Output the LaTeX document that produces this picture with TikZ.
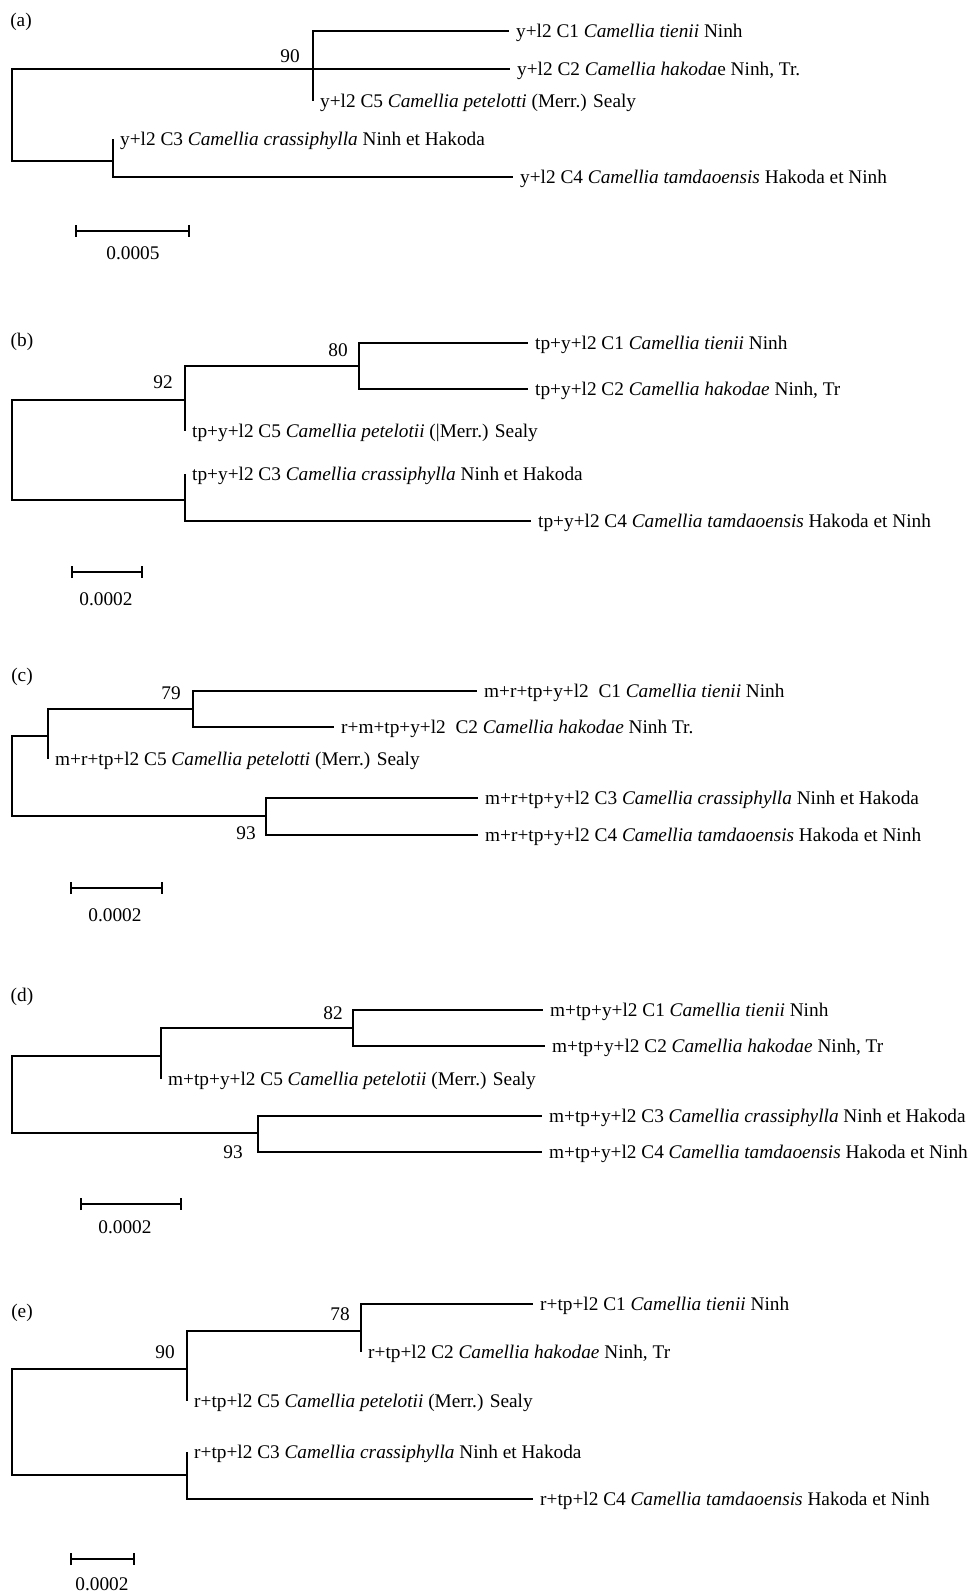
\documentclass[tikz,border=0pt]{standalone}
\usepackage{fontspec}
\setmainfont{Liberation Serif}
\usetikzlibrary{arrows.meta}

\begin{document}
\begin{tikzpicture}[x=1pt,y=-1pt,
		font=\fontsize{19.3}{23}\selectfont,
		branch/.style={line width=1.6pt},
		taxon/.style={anchor=west,inner xsep=7pt,inner ysep=1pt,text height=12.5pt,text depth=0pt},
		boot/.style={inner sep=0pt},
		scalebar/.style={line width=1.6pt,{Bar[width=12pt]}-{Bar[width=12pt]}}]
	\useasboundingbox (0,0) rectangle (974,1594);

	\node[boot] (pa) at (21,22) {(a)};
	\coordinate (a0) at (12,115);
	\coordinate (a90) at (313,69);
	\coordinate (a3) at (113,161);
	\node[taxon] (ac1) at (509,31) {y+l2 C1 \textit{Camellia tienii} Ninh};
	\node[taxon] (ac2) at (510,69) {y+l2 C2 \textit{Camellia hakoda}e Ninh, Tr.};
	\node[taxon] (ac5) at (313,101) {y+l2 C5 \textit{Camellia petelotti} (Merr.) Sealy};
	\node[taxon] (ac3) at (113,139) {y+l2 C3 \textit{Camellia crassiphylla} Ninh et Hakoda};
	\node[taxon] (ac4) at (513,177) {y+l2 C4 \textit{Camellia tamdaoensis} Hakoda et Ninh};
	\node[boot] (ba90) at (290,56) {90};
	\draw[branch] (a0) |- (a90) (a0) |- (a3)
		(a90) |- (ac1) (a90) |- (ac2) (a90) -- (a90 |- ac5)
		(a3) -- (a3 |- ac3) (a3) |- (ac4);
	\coordinate (sa1) at (75,231);
	\coordinate (sa2) at (190,231);
	\draw[scalebar] (sa1) -- (sa2);
	\node[boot] (la) at (133,253) {0.0005};

	\node[boot] (pb) at (22,342) {(b)};
	\coordinate (b0) at (12,450);
	\coordinate (b92) at (185,400);
	\coordinate (b80) at (359,366);
	\coordinate (b3) at (185,500);
	\node[taxon] (bc1) at (528,343) {tp+y+l2 C1 \textit{Camellia tienii} Ninh};
	\node[taxon] (bc2) at (528,389) {tp+y+l2 C2 \textit{Camellia hakodae} Ninh, Tr};
	\node[taxon] (bc5) at (185,431) {tp+y+l2 C5 \textit{Camellia petelotii} (|Merr.) Sealy};
	\node[taxon] (bc3) at (185,474) {tp+y+l2 C3 \textit{Camellia crassiphylla} Ninh et Hakoda};
	\node[taxon] (bc4) at (531,521) {tp+y+l2 C4 \textit{Camellia tamdaoensis} Hakoda et Ninh};
	\node[boot] (bb92) at (163,382) {92};
	\node[boot] (bb80) at (338,350) {80};
	\draw[branch] (b0) |- (b92) (b0) |- (b3)
		(b92) |- (b80) (b92) -- (b92 |- bc5)
		(b80) |- (bc1) (b80) |- (bc2)
		(b3) -- (b3 |- bc3) (b3) |- (bc4);
	\coordinate (sb1) at (71,572);
	\coordinate (sb2) at (143,572);
	\draw[scalebar] (sb1) -- (sb2);
	\node[boot] (lb) at (106,599) {0.0002};

	\node[boot] (pc) at (22,677) {(c)};
	\coordinate (c0) at (12,776);
	\coordinate (c1) at (48,736);
	\coordinate (c79) at (193,709);
	\coordinate (c93) at (266,816);
	\node[taxon] (cc1) at (477,691) {m+r+tp+y+l2\ \ C1 \textit{Camellia tienii} Ninh};
	\node[taxon] (cc2) at (334,727) {r+m+tp+y+l2\ \ C2 \textit{Camellia hakodae} Ninh Tr.};
	\node[taxon] (cc5) at (48,759) {m+r+tp+l2 C5 \textit{Camellia petelotti} (Merr.) Sealy};
	\node[taxon] (cc3) at (478,798) {m+r+tp+y+l2 C3 \textit{Camellia crassiphylla} Ninh et Hakoda};
	\node[taxon] (cc4) at (478,835) {m+r+tp+y+l2 C4 \textit{Camellia tamdaoensis} Hakoda et Ninh};
	\node[boot] (bc79) at (171,693) {79};
	\node[boot] (bc93) at (246,833) {93};
	\draw[branch] (c0) |- (c1) (c0) |- (c93)
		(c1) |- (c79) (c1) -- (c1 |- cc5)
		(c79) |- (cc1) (c79) |- (cc2)
		(c93) |- (cc3) (c93) |- (cc4);
	\coordinate (sc1) at (70,888);
	\coordinate (sc2) at (163,888);
	\draw[scalebar] (sc1) -- (sc2);
	\node[boot] (lc) at (115,915) {0.0002};

	\node[boot] (pd) at (22,997) {(d)};
	\coordinate (d0) at (12,1095);
	\coordinate (d1) at (161,1056);
	\coordinate (d82) at (353,1028);
	\coordinate (d93) at (258,1133);
	\node[taxon] (dc1) at (543,1010) {m+tp+y+l2 C1 \textit{Camellia tienii} Ninh};
	\node[taxon] (dc2) at (545,1046) {m+tp+y+l2 C2 \textit{Camellia hakodae} Ninh, Tr};
	\node[taxon] (dc5) at (161,1079) {m+tp+y+l2 C5 \textit{Camellia petelotii} (Merr.) Sealy};
	\node[taxon] (dc3) at (542,1116) {m+tp+y+l2 C3 \textit{Camellia crassiphylla} Ninh et Hakoda};
	\node[taxon] (dc4) at (542,1152) {m+tp+y+l2 C4 \textit{Camellia tamdaoensis} Hakoda et Ninh};
	\node[boot] (bd82) at (333,1013) {82};
	\node[boot] (bd93) at (233,1152) {93};
	\draw[branch] (d0) |- (d1) (d0) |- (d93)
		(d1) |- (d82) (d1) -- (d1 |- dc5)
		(d82) |- (dc1) (d82) |- (dc2)
		(d93) |- (dc3) (d93) |- (dc4);
	\coordinate (sd1) at (80,1204);
	\coordinate (sd2) at (182,1204);
	\draw[scalebar] (sd1) -- (sd2);
	\node[boot] (ld) at (125,1227) {0.0002};

	\node[boot] (pe) at (22,1313) {(e)};
	\coordinate (e0) at (12,1422);
	\coordinate (e90) at (187,1369);
	\coordinate (e78) at (361,1331);
	\coordinate (e3) at (187,1475);
	\node[taxon] (ec1) at (533,1304) {r+tp+l2 C1 \textit{Camellia tienii} Ninh};
	\node[taxon] (ec2) at (361,1352) {r+tp+l2 C2 \textit{Camellia hakodae} Ninh, Tr};
	\node[taxon] (ec5) at (187,1401) {r+tp+l2 C5 \textit{Camellia petelotii} (Merr.) Sealy};
	\node[taxon] (ec3) at (187,1452) {r+tp+l2 C3 \textit{Camellia crassiphylla} Ninh et Hakoda};
	\node[taxon] (ec4) at (533,1499) {r+tp+l2 C4 \textit{Camellia tamdaoensis} Hakoda et Ninh};
	\node[boot] (be90) at (165,1352) {90};
	\node[boot] (be78) at (340,1314) {78};
	\draw[branch] (e0) |- (e90) (e0) |- (e3)
		(e90) |- (e78) (e90) -- (e90 |- ec5)
		(e78) |- (ec1) (e78) -- (e78 |- ec2)
		(e3) -- (e3 |- ec3) (e3) |- (ec4);
	\coordinate (se1) at (70,1559);
	\coordinate (se2) at (135,1559);
	\draw[scalebar] (se1) -- (se2);
	\node[boot] (le) at (102,1584) {0.0002};
\end{tikzpicture}
\end{document}
